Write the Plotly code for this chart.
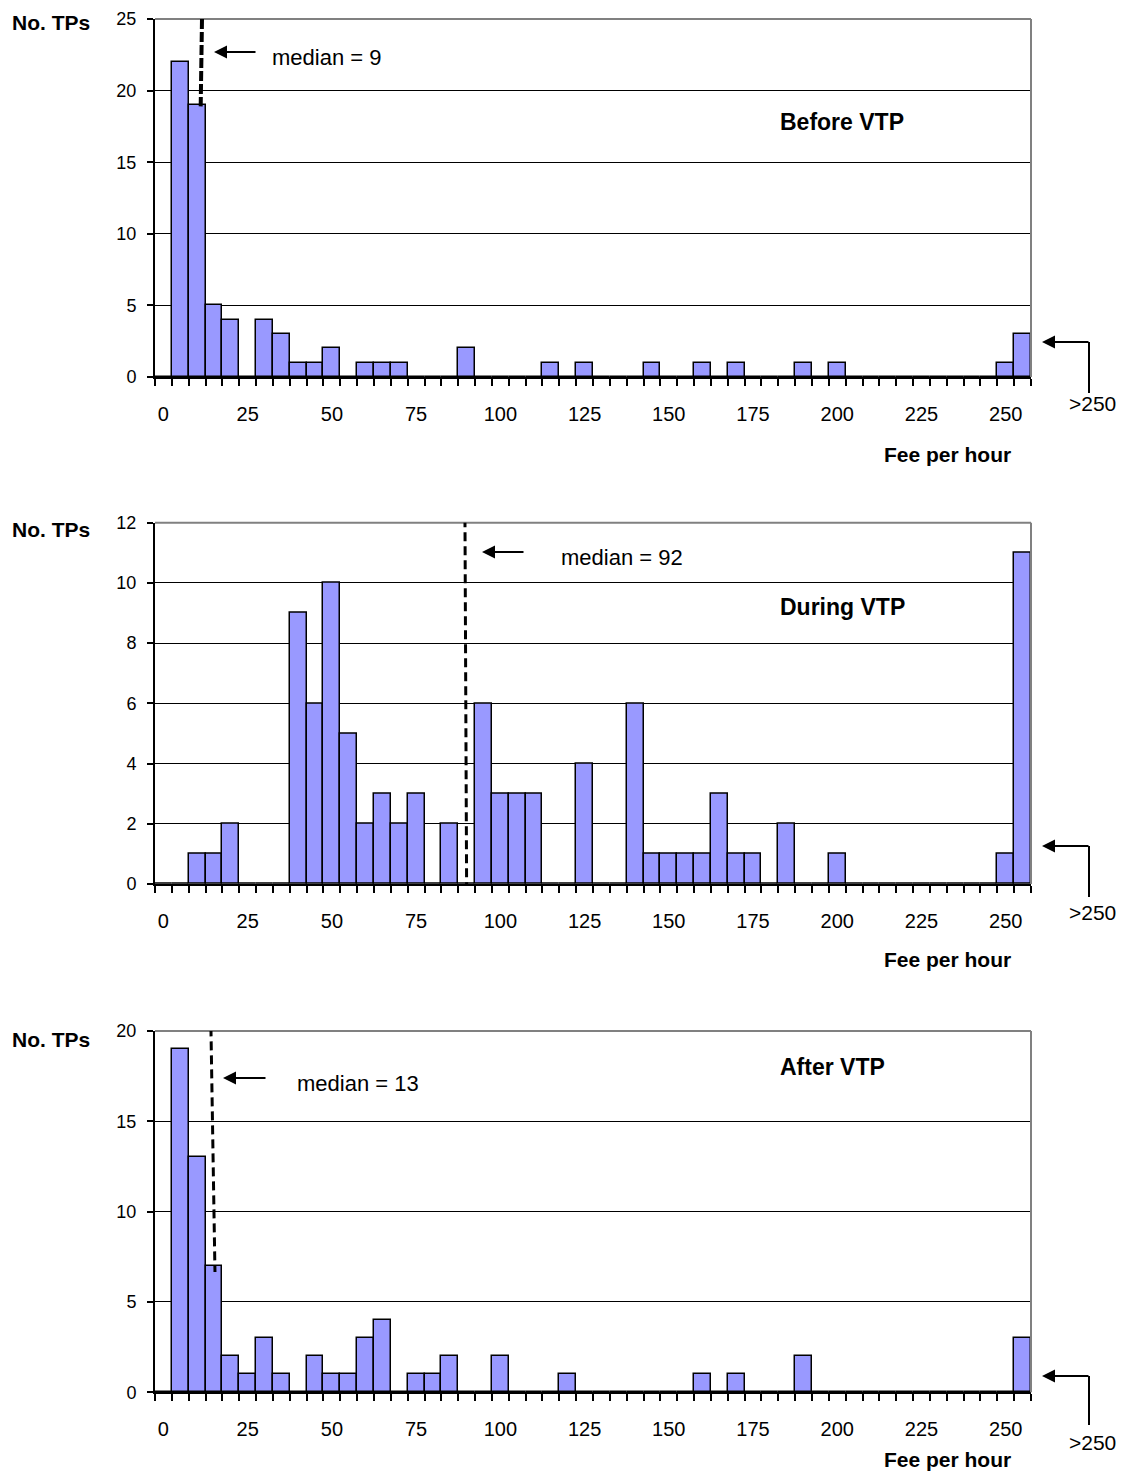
import plotly.graph_objects as go

# ---------------- data ----------------
categories = [str(5 * i) for i in range(51)] + [">250"]
before_vtp = [0, 22, 19, 5, 4, 0, 4, 3, 1, 1,
              2, 0, 1, 1, 1, 0, 0, 0, 2, 0,
              0, 0, 0, 1, 0, 1, 0, 0, 0, 1,
              0, 0, 1, 0, 1, 0, 0, 0, 1, 0,
              1, 0, 0, 0, 0, 0, 0, 0, 0, 0,
              1, 3]
during_vtp = [0, 0, 1, 1, 2, 0, 0, 0, 9, 6,
              10, 5, 2, 3, 2, 3, 0, 2, 0, 6,
              3, 3, 3, 0, 0, 4, 0, 0, 6, 1,
              1, 1, 1, 3, 1, 1, 0, 2, 0, 0,
              1, 0, 0, 0, 0, 0, 0, 0, 0, 0,
              1, 11]
after_vtp = [0, 19, 13, 7, 2, 1, 3, 1, 0, 2,
             1, 1, 3, 4, 0, 1, 1, 2, 0, 0,
             2, 0, 0, 0, 1, 0, 0, 0, 0, 0,
             0, 0, 1, 0, 1, 0, 0, 0, 2, 0,
             0, 0, 0, 0, 0, 0, 0, 0, 0, 0,
             0, 3]
panel_titles = ["Before VTP", "During VTP", "After VTP"]
median_values = [9, 92, 13]
# median marker line as drawn: (x at top, x at bottom, y top, y bottom), in data units
median_lines = [(11.45, 11.06, 25.0, 18.9),
                (89.5, 90.0, 12.15, -0.3),
                (14.1, 15.3, 20.2, 6.66)]
y_max = [25, 12, 20]
y_step = [5, 2, 5]

# ---------------- layout helpers ----------------
PAGE_MARGIN = 8           # default body margin of the html page
W, H = 1110, 1464
FONT = "Liberation Sans, Arial, sans-serif"
BAR_COLOR = "#9999FF"


def px(x):
    return (x - PAGE_MARGIN) / W


def py(y):
    return 1 - (y - PAGE_MARGIN) / H


x_pos = [5 * i for i in range(len(categories))]
tick_idx = list(range(0, 51, 5))
tickvals = [x_pos[i] for i in tick_idx]
ticktext = [categories[i] for i in tick_idx]

# pixel geometry of each panel: (top, bottom)
panels_px = [(19, 377), (522.7, 884), (1031, 1392.3)]
x_left, x_right = 155, 1031
gt250_y = [403, 912, 1442]
xtitle_y = [455, 959, 1459]
ytitle_y = [23, 529, 1039]

series = [before_vtp, during_vtp, after_vtp]

fig = go.Figure()
annotations = []
shapes = []

for p, vals in enumerate(series):
    sfx = "" if p == 0 else str(p + 1)
    xa, ya = "x" + sfx, "y" + sfx
    top, bot = panels_px[p]

    fig.add_trace(go.Bar(
        x=x_pos, y=vals, width=5,
        marker=dict(color=BAR_COLOR, line=dict(color="black", width=1.5)),
        xaxis=xa, yaxis=ya, showlegend=False, hoverinfo="x+y",
    ))

    fig.update_layout(**{
        "xaxis" + sfx: dict(
            domain=[px(x_left), px(x_right)], anchor=ya, automargin=False,
            range=[-2.5, 257.5], tickmode="array",
            tickvals=tickvals, ticktext=ticktext,
            ticks="", showline=True, linecolor="black", linewidth=2,
            showgrid=False, zeroline=False,
            tickfont=dict(family=FONT, size=20, color="black"),
            ticklabelstandoff=18, ticklabeloverflow="allow",
            minor=dict(ticks="outside", tick0=2.5, dtick=5, ticklen=7,
                       tickwidth=2, tickcolor="black", showgrid=False),
        ),
        "yaxis" + sfx: dict(
            domain=[py(bot), py(top)], anchor=xa, automargin=False,
            range=[0, y_max[p]], dtick=y_step[p], tick0=0,
            ticks="outside", ticklen=6, tickwidth=2, tickcolor="black",
            showline=True, linecolor="black", linewidth=2,
            showgrid=True, gridcolor="black", gridwidth=1.4,
            zeroline=False,
            tickfont=dict(family=FONT, size=18, color="black"),
            ticklabelstandoff=7, ticklabeloverflow="allow",
        ),
    })

    # grey plot-area border top and right
    shapes.append(dict(type="line", xref=xa + " domain", yref=ya + " domain",
                       x0=0, x1=1, y0=1, y1=1, line=dict(color="#808080", width=2)))
    shapes.append(dict(type="line", xref=xa + " domain", yref=ya + " domain",
                       x0=1, x1=1, y0=0, y1=1, line=dict(color="#808080", width=2)))

    # median dashed line
    mx0, mx1, my0, my1 = median_lines[p]
    shapes.append(dict(type="line", xref=xa, yref=ya, x0=mx0, x1=mx1, y0=my0, y1=my1,
                       layer="above",
                       line=dict(color="black", width=4 if p == 0 else 3,
                                 dash="10px,3px" if p == 0 else "9px,5px")))

    # y title
    annotations.append(dict(text="<b>No. TPs</b>", xref="paper", yref="paper",
                            x=px(10), y=py(ytitle_y[p]), xanchor="left", yanchor="middle",
                            showarrow=False, font=dict(family=FONT, size=21, color="black")))
    # x title
    annotations.append(dict(text="<b>Fee per hour</b>", xref="paper", yref="paper",
                            x=px(1013), y=py(xtitle_y[p]), xanchor="right", yanchor="middle",
                            showarrow=False, font=dict(family=FONT, size=21, color="black")))
    # >250 label
    annotations.append(dict(text=">250", xref="paper", yref="paper",
                            x=px(1092), y=py(gt250_y[p]), xanchor="center", yanchor="middle",
                            showarrow=False, font=dict(family=FONT, size=21, color="black")))

# panel titles
title_y = [122, 607, 1067]
for p in range(3):
    annotations.append(dict(text="<b>%s</b>" % panel_titles[p], xref="paper", yref="paper",
                            x=px(778), y=py(title_y[p]), xanchor="left", yanchor="middle",
                            showarrow=False, font=dict(family=FONT, size=23, color="black")))

# median labels and arrows (tip x, tail x, arrow y, text left, text y)
median_geo = [(214, 257, 52, 270, 58),
              (482, 525, 552, 559, 557),
              (223, 267, 1078, 295, 1083)]
for p in range(3):
    tip, tail, ay_, tl, ty = median_geo[p]
    annotations.append(dict(text="", xref="paper", yref="paper", x=px(tip), y=py(ay_),
                            ax=tail - tip, ay=0, axref="pixel", ayref="pixel",
                            showarrow=True, arrowhead=2, arrowsize=1.3, arrowwidth=2,
                            arrowcolor="black"))
    annotations.append(dict(text="median = %d" % median_values[p], xref="paper", yref="paper",
                            x=px(tl), y=py(ty), xanchor="left", yanchor="middle",
                            showarrow=False, font=dict(family=FONT, size=22, color="black")))

# right-hand elbow arrows pointing to the >250 bar
elbow = [(342, 393), (846, 897), (1376, 1425)]
for (yt, yb) in elbow:
    shapes.append(dict(type="line", xref="paper", yref="paper",
                       x0=px(1089), x1=px(1089), y0=py(yt), y1=py(yb),
                       line=dict(color="black", width=2)))
    annotations.append(dict(text="", xref="paper", yref="paper", x=px(1042), y=py(yt),
                            ax=1090 - 1042, ay=0, axref="pixel", ayref="pixel",
                            showarrow=True, arrowhead=2, arrowsize=1.3, arrowwidth=2,
                            arrowcolor="black"))

fig.update_layout(
    width=W, height=H, autosize=False,
    margin=dict(l=0, r=0, t=0, b=0, autoexpand=False),
    paper_bgcolor="white", plot_bgcolor="white",
    bargap=0, barmode="overlay",
    font=dict(family=FONT, color="black"),
    annotations=annotations, shapes=shapes,
    showlegend=False,
)

fig.write_html("out.html")
